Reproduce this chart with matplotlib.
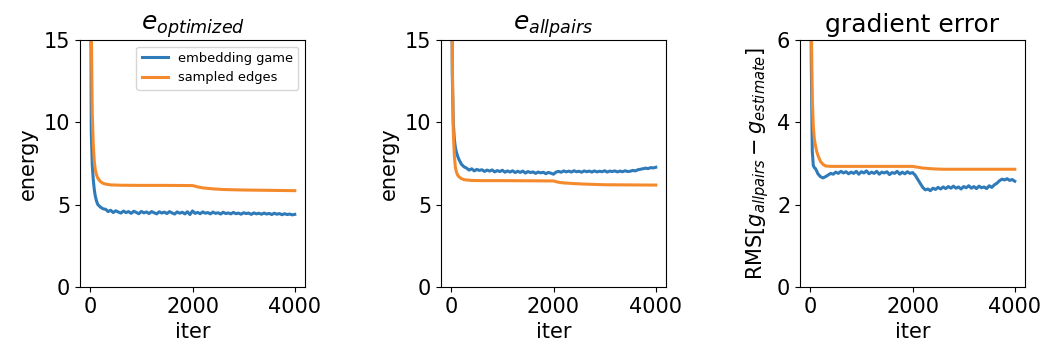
import matplotlib.pyplot as plt
import numpy as np

plt.rcParams['font.size'] = 15

# iteration grids
iter_early = [0, 20, 40, 60, 80, 100, 125, 150, 200, 250]
iter_blue = np.concatenate([iter_early, np.arange(300, 4001, 50)])
iter_orange = [0, 20, 40, 60, 80, 100, 125, 150, 200, 250, 300, 400, 600,
               1000, 1500, 2000, 2100, 2200, 2400, 2600, 3000, 3500, 4000]

# e_optimized
opt_game = [30, 9.5, 7.4, 6.5, 5.9, 5.5, 5.2, 5.0, 4.85, 4.75,
            4.72, 4.58, 4.66, 4.52, 4.63, 4.55, 4.49, 4.61, 4.52, 4.58,
            4.47, 4.60, 4.53, 4.45, 4.59, 4.50, 4.56, 4.46, 4.58, 4.51,
            4.44, 4.57, 4.49, 4.55, 4.46, 4.58, 4.50, 4.43, 4.56, 4.48,
            4.54, 4.44, 4.57, 4.40, 4.62, 4.47, 4.53, 4.45, 4.56, 4.48,
            4.52, 4.44, 4.55, 4.47, 4.51, 4.43, 4.54, 4.46, 4.50, 4.44,
            4.53, 4.45, 4.49, 4.42, 4.51, 4.46, 4.49, 4.41, 4.50, 4.44,
            4.48, 4.42, 4.49, 4.43, 4.47, 4.40, 4.48, 4.42, 4.46, 4.39,
            4.45, 4.40, 4.43, 4.38, 4.41]
opt_sampled = [45, 16, 10.5, 8.6, 7.6, 7.1, 6.8, 6.6, 6.4, 6.3, 6.25, 6.2, 6.18,
               6.17, 6.17, 6.16, 6.08, 6.02, 5.96, 5.92, 5.89, 5.87, 5.85]

# e_allpairs
all_game = [35, 13, 10, 9.0, 8.5, 8.2, 7.95, 7.75, 7.45, 7.3,
            7.22, 7.10, 7.18, 7.05, 7.14, 7.08, 7.12, 7.02, 7.10, 7.04,
            7.11, 6.99, 7.07, 7.01, 7.09, 6.97, 7.05, 6.98, 7.06, 6.95,
            7.03, 6.96, 7.04, 6.92, 7.01, 6.95, 6.99, 6.90, 6.98, 6.93,
            6.97, 6.88, 6.96, 6.91, 6.85, 6.98, 7.02, 6.97, 7.05, 6.99,
            7.04, 6.98, 7.06, 7.00, 7.03, 6.97, 7.05, 7.00, 7.04, 6.98,
            7.05, 6.99, 7.03, 7.00, 7.06, 6.98, 7.04, 7.01, 7.05, 6.99,
            7.04, 7.00, 7.06, 7.01, 7.03, 7.08, 7.05, 7.12, 7.15, 7.18,
            7.22, 7.19, 7.25, 7.23, 7.27]
all_sampled = [45, 14, 9.5, 8.0, 7.3, 7.0, 6.8, 6.7, 6.58, 6.52, 6.5, 6.47, 6.46,
               6.46, 6.45, 6.44, 6.36, 6.32, 6.28, 6.25, 6.21, 6.20, 6.19]

# gradient error
grad_game = [12, 5.5, 3.3, 2.95, 2.9, 2.88, 2.82, 2.75, 2.68, 2.65,
             2.68, 2.72, 2.76, 2.74, 2.79, 2.76, 2.81, 2.77, 2.80, 2.75,
             2.79, 2.76, 2.81, 2.74, 2.80, 2.77, 2.82, 2.75, 2.79, 2.76,
             2.81, 2.74, 2.79, 2.77, 2.80, 2.73, 2.78, 2.76, 2.81, 2.74,
             2.79, 2.75, 2.80, 2.76, 2.78, 2.72, 2.62, 2.52, 2.42, 2.36,
             2.38, 2.34, 2.40, 2.37, 2.42, 2.38, 2.43, 2.39, 2.44, 2.40,
             2.45, 2.40, 2.43, 2.38, 2.44, 2.41, 2.46, 2.40, 2.44, 2.39,
             2.45, 2.41, 2.43, 2.39, 2.46, 2.42, 2.48, 2.52, 2.58, 2.62,
             2.60, 2.63, 2.59, 2.61, 2.57]
grad_sampled = [14, 6.5, 4.6, 3.9, 3.6, 3.45, 3.3, 3.2, 3.05, 2.98, 2.94, 2.93, 2.93,
                2.93, 2.93, 2.93, 2.91, 2.89, 2.87, 2.86, 2.86, 2.86, 2.86]

fig = plt.figure(figsize=(10.42, 3.52), dpi=100)
W, H = 1042.0, 352.0
lefts = [80, 441, 800]
axw = 225
top, bottom = 40, 287

panels = [
    (opt_game, opt_sampled, r'$e_{optimized}$', 'energy', 15, [0, 5, 10, 15]),
    (all_game, all_sampled, r'$e_{allpairs}$', 'energy', 15, [0, 5, 10, 15]),
    (grad_game, grad_sampled, 'gradient error',
     r'RMS$[g_{allpairs} - g_{estimate}]$', 6, [0, 2, 4, 6]),
]

for i, (game, sampled, title, ylab, ymax, yt) in enumerate(panels):
    ax = fig.add_axes([lefts[i] / W, 1 - bottom / H, axw / W, (bottom - top) / H])
    ax.plot(iter_blue, game, color='#2f7ab8', lw=2.2, label='embedding game')
    ax.plot(iter_orange, sampled, color='#f58a2c', lw=2.2, label='sampled edges')
    ax.set_ylim(0, ymax)
    ax.set_yticks(yt)
    ax.set_xticks([0, 2000, 4000])
    ax.set_title(title, fontsize=18)
    ax.set_xlabel('iter')
    ax.set_ylabel(ylab)
    if i == 0:
        ax.legend(loc='upper right', fontsize=9.4)

plt.savefig('out.png', dpi=100)
